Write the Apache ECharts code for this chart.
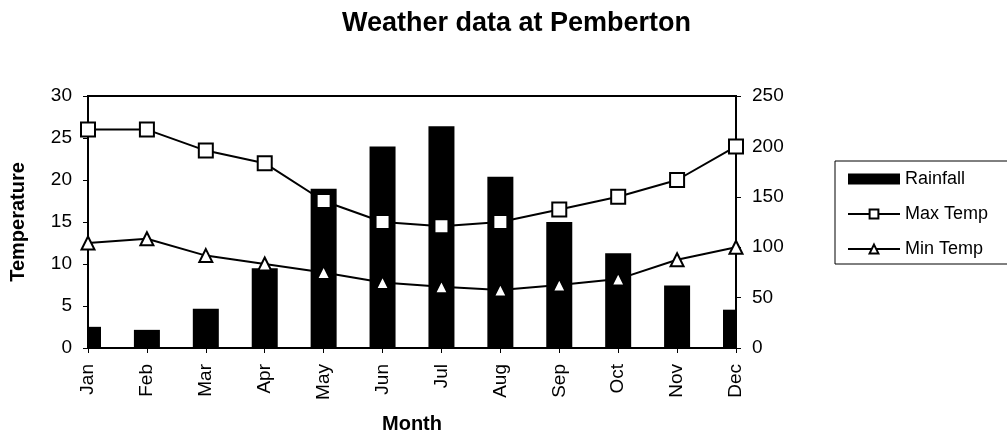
<!DOCTYPE html>
<html>
<head>
<meta charset="utf-8">
<script src="https://cdn.jsdelivr.net/npm/echarts@6/dist/echarts.min.js"></script>
<style>
  html, body { margin: 0; padding: 0; background: #fff; }
  #chart { width: 1007px; height: 439px; }
</style>
</head>
<body>
<div id="chart"></div>
<script>
// data
var months = ["Jan", "Feb", "Mar", "Apr", "May", "Jun", "Jul", "Aug", "Sep", "Oct", "Nov", "Dec"];
var rainfall = [21, 18, 39, 79, 158, 200, 220, 170, 125, 94, 62, 38];
var maxTemp = [26, 26, 23.5, 22, 17.5, 15, 14.5, 15, 16.5, 18, 20, 24];
var minTemp = [12.5, 13, 11, 10, 9, 7.8, 7.3, 6.9, 7.5, 8.2, 10.5, 12];

var font = "Liberation Sans, Arial, sans-serif";

// bars sit on the ticks (boundaryGap false), so the end ones get cut at the grid edge
function renderBar(params, api) {
  var i = api.value(0);
  var top = api.coord([i, api.value(1)]);
  var base = api.coord([i, 0]);
  var cs = params.coordSys;
  var rect = echarts.graphic.clipRectByRect(
    { x: top[0] - 13, y: top[1], width: 26, height: base[1] - top[1] },
    { x: cs.x, y: cs.y, width: cs.width, height: cs.height }
  );
  return rect && { type: "rect", shape: rect, style: api.style() };
}

var chart = echarts.init(document.getElementById("chart"));
chart.setOption({
  animation: false,
  backgroundColor: "#fff",
  title: {
    text: "Weather data at Pemberton",
    left: 337,
    top: 5,
    textStyle: { fontFamily: font, fontSize: 27, fontWeight: "bold", color: "#000" }
  },
  legend: {
    orient: "vertical",
    left: 835,
    top: 161,
    padding: [9, 30, 6, 12],
    itemWidth: 52,
    itemHeight: 11,
    itemGap: 17,
    borderColor: "#000",
    borderWidth: 1,
    backgroundColor: "#fff",
    textStyle: { fontFamily: font, fontSize: 18, color: "#000" },
    data: [
      { name: "Rainfall", icon: "rect", itemStyle: { color: "#000" } },
      { name: "Max Temp" },
      { name: "Min Temp" }
    ]
  },
  grid: {
    left: 88,
    right: 271,
    top: 96,
    bottom: 90,
    show: true,
    borderColor: "#000",
    borderWidth: 2,
    backgroundColor: "transparent"
  },
  xAxis: {
    type: "category",
    data: months,
    boundaryGap: false,
    name: "Month",
    nameLocation: "middle",
    nameGap: 66,
    nameTextStyle: { fontFamily: font, fontSize: 20, fontWeight: "bold", color: "#000" },
    axisLine: { lineStyle: { color: "#000", width: 2 } },
    axisTick: { alignWithLabel: true, length: 5, lineStyle: { color: "#000", width: 1 } },
    axisLabel: { rotate: 90, margin: 16, fontFamily: font, fontSize: 19, color: "#000", interval: 0 },
    splitLine: { show: false }
  },
  yAxis: [
    {
      type: "value",
      min: 0,
      max: 30,
      interval: 5,
      name: "Temperature",
      nameLocation: "middle",
      nameGap: 60,
      nameTextStyle: { fontFamily: font, fontSize: 20, fontWeight: "bold", color: "#000" },
      axisLine: { show: true, lineStyle: { color: "#000", width: 2 } },
      axisTick: { show: true, length: 5, lineStyle: { color: "#000", width: 1 } },
      axisLabel: { margin: 16, fontFamily: font, fontSize: 19, color: "#000" },
      splitLine: { show: false }
    },
    {
      type: "value",
      position: "right",
      min: 0,
      max: 250,
      interval: 50,
      axisLine: { show: true, lineStyle: { color: "#000", width: 2 } },
      axisTick: { show: true, length: 5, lineStyle: { color: "#000", width: 1 } },
      axisLabel: { margin: 16, fontFamily: font, fontSize: 19, color: "#000" },
      splitLine: { show: false }
    }
  ],
  series: [
    {
      name: "Rainfall",
      type: "custom",
      yAxisIndex: 1,
      renderItem: renderBar,
      encode: { x: 0, y: 1 },
      data: rainfall.map(function (v, i) { return [i, v]; }),
      itemStyle: { color: "#000" }
    },
    {
      name: "Max Temp",
      type: "line",
      yAxisIndex: 0,
      data: maxTemp,
      symbol: "rect",
      symbolSize: 14,
      showAllSymbol: true,
      z: 3,
      lineStyle: { color: "#000", width: 2 },
      itemStyle: { color: "#fff", borderColor: "#000", borderWidth: 2 }
    },
    {
      name: "Min Temp",
      type: "line",
      yAxisIndex: 0,
      data: minTemp,
      symbol: "triangle",
      symbolSize: 13,
      showAllSymbol: true,
      z: 3,
      lineStyle: { color: "#000", width: 2 },
      itemStyle: { color: "#fff", borderColor: "#000", borderWidth: 2 }
    }
  ]
});
</script>
</body>
</html>
